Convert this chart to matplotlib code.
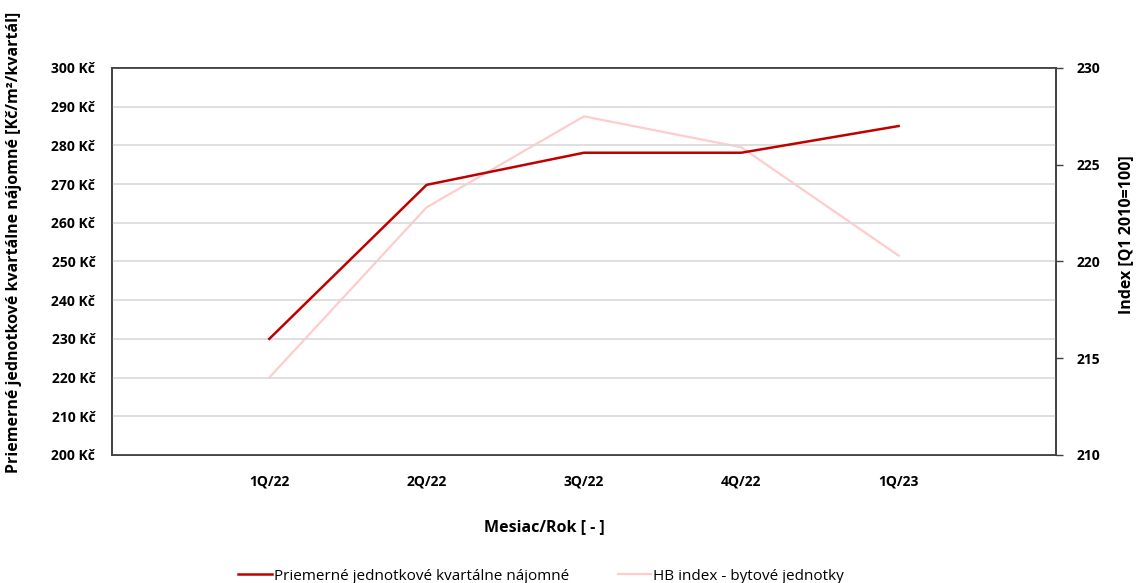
import matplotlib.pyplot as plt
import numpy as np

# Dáta
kvartaly = ['1Q/22', '2Q/22', '3Q/22', '4Q/22', '1Q/23']
najomne = [230, 269.8, 278.1, 278.1, 285.0]          # Kč/m2/kvartál
hb_index = [214.0, 222.8, 227.5, 225.9, 220.3]       # Q1 2010 = 100

plt.rcParams['font.family'] = ['Open Sans', 'DejaVu Sans']

fig = plt.figure(figsize=(11.39, 5.83), dpi=100)
ax1 = fig.add_axes([0.0983, 0.2196, 0.8288, 0.6638])
ax2 = ax1.twinx()

x = np.arange(1, len(kvartaly) + 1)

l2, = ax2.plot(x, hb_index, color='#ffcccc', linewidth=1.6,
               label='HB index - bytové jednotky')
l1, = ax1.plot(x, najomne, color='#c00000', linewidth=1.8,
               label='Priemerné jednotkové kvartálne nájomné')
ax1.set_zorder(ax2.get_zorder() + 1)
ax1.patch.set_visible(False)

# Osi
ax1.set_xlim(0, 6)
ax1.set_ylim(200, 300)
ax1.set_yticks(np.arange(200, 301, 10))
ax1.set_yticklabels([f'{v} Kč' for v in range(200, 301, 10)])
ax1.set_xticks(x)
ax1.set_xticklabels(kvartaly)
ax2.set_ylim(210, 230)
ax2.set_yticks(np.arange(210, 231, 5))

ax1.grid(axis='y', color='#d9d9d9', linewidth=1.2)
ax1.set_axisbelow(True)

ax1.tick_params(axis='y', length=0, pad=12, labelsize=10)
ax1.tick_params(axis='x', length=0, pad=14, labelsize=10)
ax2.tick_params(axis='y', length=5, width=1, color='#404040', pad=10, labelsize=10)
for lab in ax1.get_xticklabels() + ax1.get_yticklabels() + ax2.get_yticklabels():
    lab.set_fontweight('bold')

for ax in (ax1, ax2):
    for s in ax.spines.values():
        s.set_color('#404040')
        s.set_linewidth(1.2)

ax1.set_xlabel('Mesiac/Rok [ - ]', fontsize=11.5, fontweight='bold')
ax1.xaxis.set_label_coords(0.458, -0.165)
ax1.set_ylabel('Priemerné jednotkové kvartálne nájomné [Kč/m²/kvartál]',
               fontsize=11.5, fontweight='bold')
ax1.yaxis.set_label_coords(-0.095, 0.55)
ax2.set_ylabel('Index [Q1 2010=100]', fontsize=11.5, fontweight='bold')
ax2.yaxis.set_label_coords(1.066, 0.57)

fig.legend(handles=[l1, l2], loc='lower center', bbox_to_anchor=(0.475, -0.025),
           ncol=2, frameon=False, fontsize=11, handlelength=2.2,
           handletextpad=0.1, columnspacing=3.2)

plt.savefig('out.png', dpi=100)
